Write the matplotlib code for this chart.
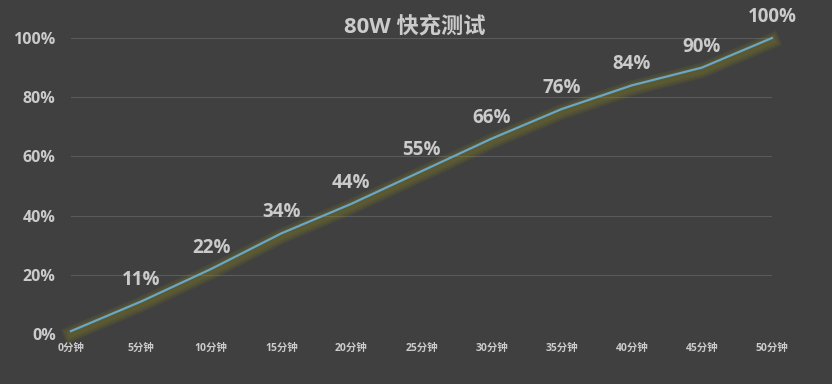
import numpy as np
import matplotlib
matplotlib.use("Agg")
import matplotlib.pyplot as plt
import matplotlib.patheffects as pe

plt.rcParams['font.family'] = ['Open Sans', 'Noto Sans CJK SC', 'DejaVu Sans']

# data
minutes = [0, 5, 10, 15, 20, 25, 30, 35, 40, 45, 50]
x_labels = ["0分钟", "5分钟", "10分钟", "15分钟", "20分钟", "25分钟",
            "30分钟", "35分钟", "40分钟", "45分钟", "50分钟"]
battery = [1, 11, 22, 34, 44, 55, 66, 76, 84, 90, 100]
point_labels = ["", "11%", "22%", "34%", "44%", "55%", "66%", "76%", "84%", "90%", "100%"]
y_ticks = [0, 20, 40, 60, 80, 100]
title = "80W 快充测试"

bg = "#404040"
txt = "#cbcbcb"

fig = plt.figure(figsize=(8.32, 3.84), dpi=100, facecolor=bg)
ax = fig.add_axes([0.0853, 0.130, 0.8425, 0.771], facecolor=bg)

ax.set_xlim(0, 50)
ax.set_ylim(0, 100)

# faint gridlines
for yv in y_ticks[1:]:
    ax.axhline(yv, color="#5a5a5a", lw=0.8, zorder=1)

# soft glow under the line
glow = [pe.SimpleLineShadow(offset=(0, -2), shadow_color="#948f1c", alpha=0.13, linewidth=w)
        for w in (11, 8, 5)]
ax.plot(minutes, battery, color="#6aa6c6", lw=1.6, zorder=3, clip_on=False,
        path_effects=glow + [pe.Normal()])

for xv, yv, lab in zip(minutes, battery, point_labels):
    if lab:
        ax.annotate(lab, (xv, yv), xytext=(0, 8), textcoords="offset points",
                    ha="center", va="bottom", color=txt, fontsize=13.5,
                    fontweight="bold")

ax.set_xticks(minutes)
ax.set_xticklabels(x_labels, fontsize=7.5, fontweight="bold", color=txt)
ax.set_yticks(y_ticks)
ax.set_yticklabels([f"{v}%" for v in y_ticks], fontsize=11.5, fontweight="bold", color=txt)
ax.tick_params(length=0)
ax.tick_params(axis="x", pad=6)
ax.tick_params(axis="y", pad=11)
for s in ax.spines.values():
    s.set_visible(False)

fig.text(0.499, 0.93, title, ha="center", va="center", color=txt,
         fontsize=16, fontweight="bold")

fig.savefig("out.png", dpi=100, facecolor=bg)
